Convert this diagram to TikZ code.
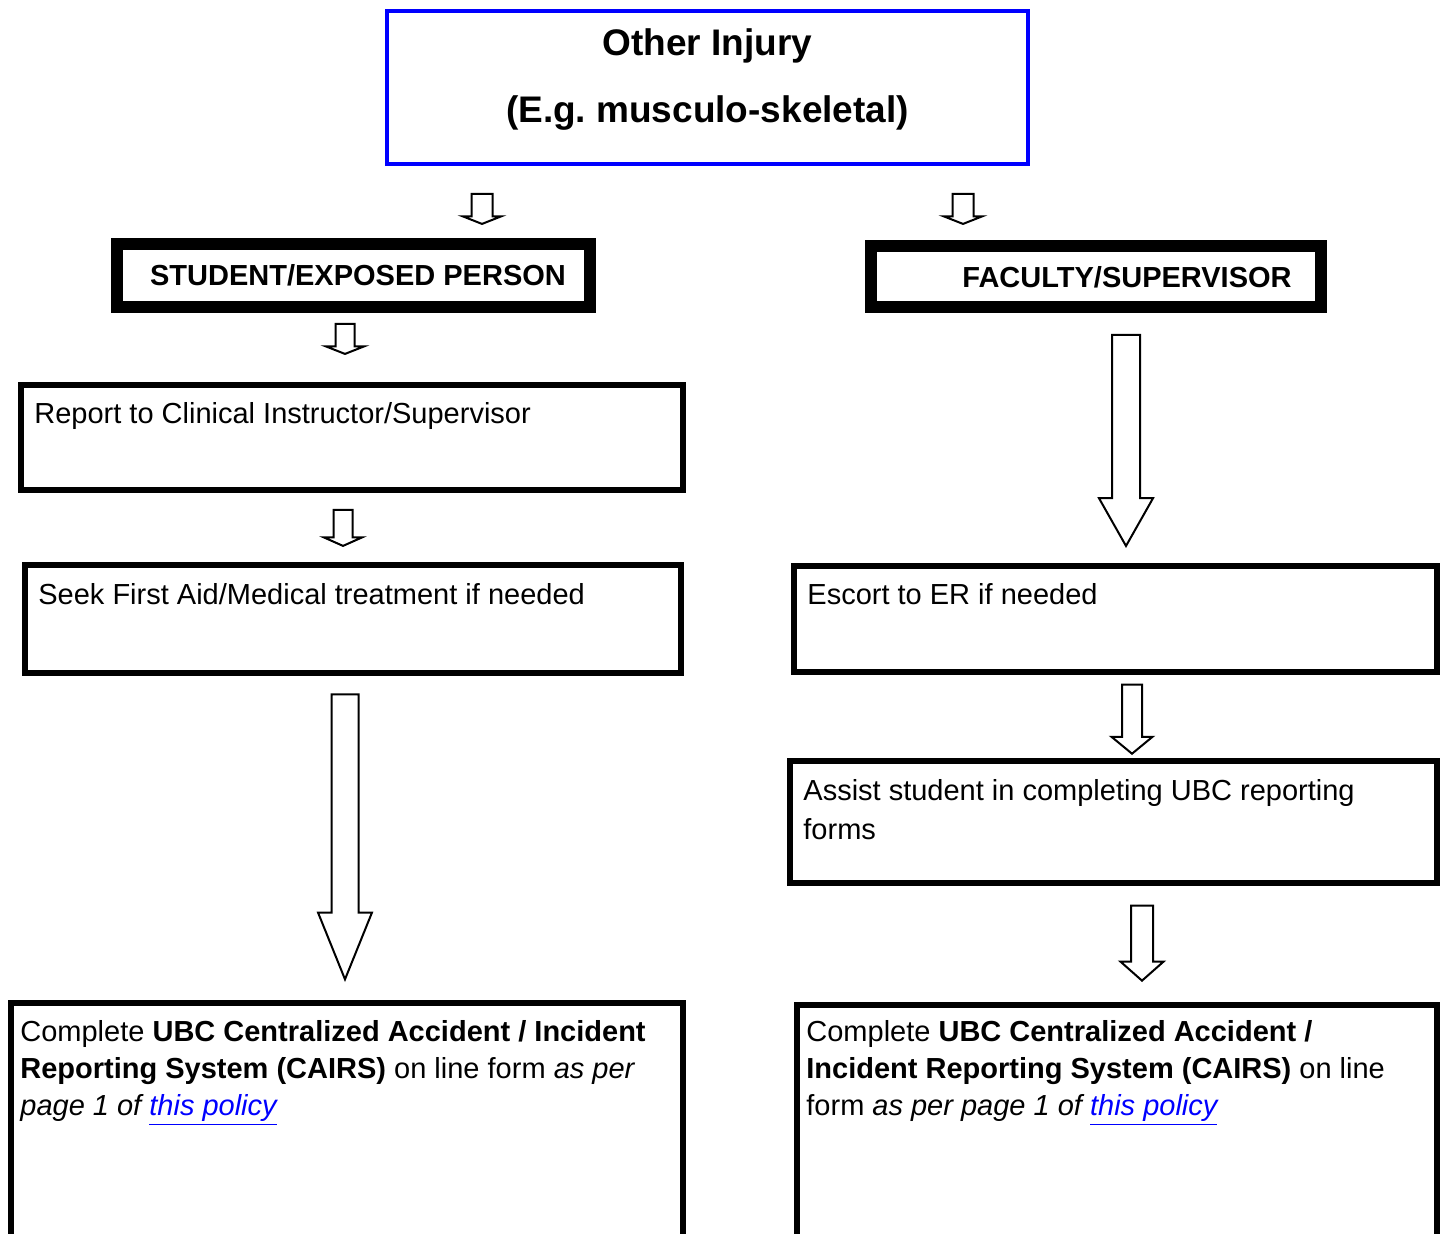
\documentclass[tikz,border=0pt]{standalone}
\usepackage{fontspec}
\setmainfont{Liberation Sans}
\usetikzlibrary{shapes.arrows,positioning}
\tikzset{
    titlebox/.style={
           rectangle,
           draw=blue, line width=2pt,
           inner sep=0pt,
           },
    headbox/.style={
           rectangle,
           draw=black, line width=6pt,
           inner sep=0pt,
           },
    stepbox/.style={
           rectangle,
           draw=black, line width=3pt,
           inner sep=0pt,
           },
    steptext/.style={
           inner sep=0pt, anchor=base west, align=left,
           font=\fontsize{14.5pt}{18.5pt}\selectfont,
           },
    headtext/.style={
           inner sep=0pt, anchor=base,
           font=\fontsize{14.5pt}{17pt}\selectfont\bfseries,
           },
    downarrow/.style={
           single arrow, draw=black, line width=1pt, fill=white,
           inner xsep=0pt, rotate=-90, anchor=tip,
           },
}
\newcommand{\policylink}{\textcolor{blue}{\underline{this policy}}}

\begin{document}
\begin{tikzpicture}[x=0.5pt,y=-0.5pt]
  \clip (0,0) rectangle (1445,1234);

  % top box (multi-line text: base = last line)
  \node[titlebox,minimum width=320.5pt,minimum height=76.5pt] (INJURY) at (707.5,87.5) {};
  \node[inner sep=0pt,anchor=base,align=center,
        font=\fontsize{18.5pt}{33.5pt}\selectfont\bfseries] (INJURYTXT) at (707.5,123)
    {Other Injury\\(E.g.\ musculo-skeletal)};

  % the two sides
  \node[headbox,minimum width=236.5pt,minimum height=31.5pt] (STUDENT) at (353.5,275.5) {};
  \node[headtext] (STUDENTTXT) at (358,286) {STUDENT/EXPOSED PERSON};
  \node[headbox,minimum width=225pt,minimum height=30.5pt] (FACULTY) at (1096,276.5) {};
  \node[headtext] (FACULTYTXT) at (1127,288) {FACULTY/SUPERVISOR};

  % left column
  \node[stepbox,minimum width=331pt,minimum height=52.5pt] (REPORT) at (352,437.5) {};
  \node[steptext] (REPORTTXT) at (34,424) {Report to Clinical Instructor/Supervisor};
  \node[stepbox,minimum width=328pt,minimum height=54pt] (SEEK) at (353,619) {};
  \node[steptext] (SEEKTXT) at (38,604.5) {Seek First Aid/Medical treatment if needed};
  \node[stepbox,minimum width=336pt,minimum height=148.5pt] (CAIRSL) at (347,1151.5) {};
  \node[steptext] (CAIRSLTXT) at (20,1115.5)
    {Complete \textbf{UBC Centralized Accident / Incident}\\
     \textbf{Reporting System (CAIRS)} on line form \textit{as per}\\
     \textit{page 1 of \policylink}};

  % right column
  \node[stepbox,minimum width=321.5pt,minimum height=53pt] (ESCORT) at (1115.5,619) {};
  \node[steptext] (ESCORTTXT) at (807,604.5) {Escort to ER if needed};
  \node[stepbox,minimum width=323.5pt,minimum height=61pt] (ASSIST) at (1113.5,822) {};
  \node[steptext,font=\fontsize{14.5pt}{19.5pt}\selectfont] (ASSISTTXT) at (803,839)
    {Assist student in completing UBC reporting\\forms};
  \node[stepbox,minimum width=320pt,minimum height=147.5pt] (CAIRSR) at (1117,1152.5) {};
  \node[steptext] (CAIRSRTXT) at (806,1115.5)
    {Complete \textbf{UBC Centralized Accident /}\\
     \textbf{Incident Reporting System (CAIRS)} on line\\
     form \textit{as per page 1 of \policylink}};

  % block arrows, placed by their tips (inner ysep = half the shaft)
  \node[downarrow,minimum height=15pt,inner ysep=4.75pt,
        single arrow head extend=4.25pt,single arrow tip angle=137] (A1) at (482,225) {};
  \node[downarrow,minimum height=15pt,inner ysep=4.75pt,
        single arrow head extend=4.25pt,single arrow tip angle=137] (A2) at (963,225) {};
  \node[downarrow,minimum height=15pt,inner ysep=4.25pt,
        single arrow head extend=4.75pt,single arrow tip angle=137] (A3) at (345,355) {};
  \node[downarrow,minimum height=18pt,inner ysep=4.25pt,
        single arrow head extend=4.75pt,single arrow tip angle=132] (A4) at (343,547) {};
  \node[downarrow,minimum height=142.5pt,inner ysep=6.25pt,
        single arrow head extend=6.75pt,single arrow tip angle=44] (A5) at (345,982) {};
  \node[downarrow,minimum height=105.5pt,inner ysep=6.5pt,
        single arrow head extend=6.5pt,single arrow tip angle=59] (A6) at (1126,548) {};
  \node[downarrow,minimum height=34.5pt,inner ysep=4.5pt,
        single arrow head extend=5.25pt,single arrow tip angle=101] (A7) at (1132,755) {};
  \node[downarrow,minimum height=37.5pt,inner ysep=5pt,
        single arrow head extend=5.25pt,single arrow tip angle=97] (A8) at (1142,982) {};
\end{tikzpicture}
\end{document}
